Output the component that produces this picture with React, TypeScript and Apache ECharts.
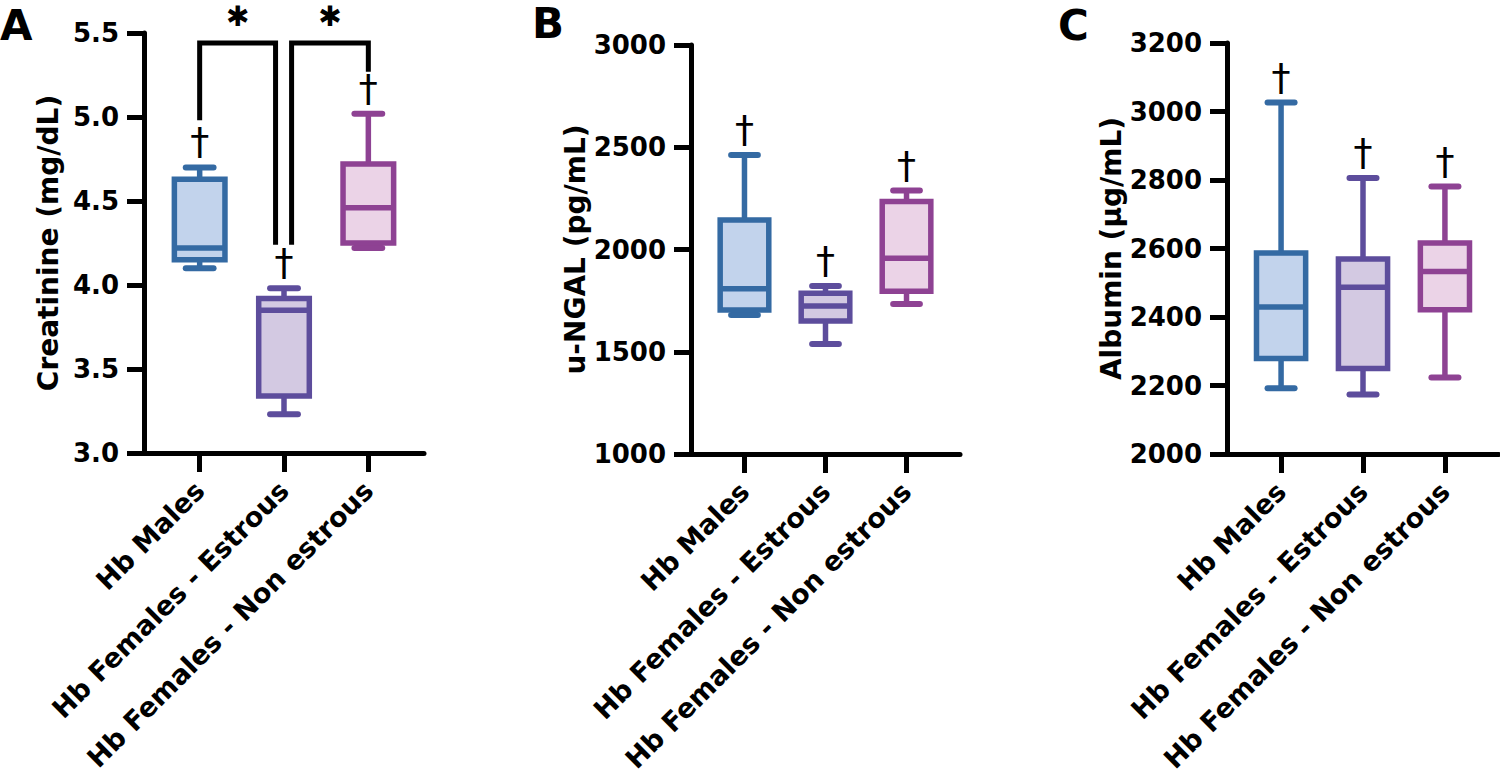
import React, { useEffect, useRef } from "react";
import * as echarts from "echarts";

// ---- data ----
const CATEGORIES = ["Hb Males", "Hb Females - Estrous", "Hb Females - Non estrous"];
// [min, Q1, median, Q3, max]
const CREATININE = [
  [4.1, 4.15, 4.22, 4.63, 4.7],
  [3.23, 3.34, 3.85, 3.92, 3.98],
  [4.22, 4.25, 4.46, 4.72, 5.02],
];
const NGAL = [
  [1680, 1704, 1808, 2144, 2462],
  [1538, 1650, 1724, 1786, 1821],
  [1733, 1796, 1957, 2235, 2288],
];
const ALBUMIN = [
  [2192, 2279, 2429, 2587, 3026],
  [2174, 2250, 2487, 2569, 2806],
  [2223, 2421, 2533, 2616, 2781],
];
// significance brackets in panel A: [xStart, xEnd, yLeftFoot, yRightFoot, yTop, mark]
const BRACKETS: [number, number, number, number, number, string][] = [
  [1, 1.9, 4.98, 4.24, 5.44, "\u2731"],
  [2.09, 3, 4.24, 5.27, 5.44, "\u2731"],
];
const Y_NAMES = ["Creatinine (mg/dL)", "u-NGAL (pg/mL)", "Albumin (\u03bcg/mL)"];
const Y_MIN = [3, 1000, 2000];
const Y_MAX = [5.5, 3000, 3200];
const Y_STEP = [0.5, 500, 200];
const Y_DECIMALS = [1, 0, 0];
const PANEL_LETTERS = ["A", "B", "C"];

// ---- styles ----
const STROKES = ["#346aa3", "#5d4d9c", "#8e4293"];
const FILLS = ["#c2d3ec", "#d3c9e2", "#ebd3e7"];
const FONT = "'DejaVu Sans', sans-serif";
const GRIDS = [
  { left: 144, top: 33, width: 280, height: 420 },
  { left: 691, top: 45, width: 269, height: 409 },
  { left: 1227, top: 43, width: 272, height: 411 },
];
const LETTER_POS = [
  { left: 0, top: 4 },
  { left: 532, top: 2 },
  { left: 1058, top: 4 },
];

function boxRender(params: any, api: any) {
  const x = api.value(0);
  const vals = [1, 2, 3, 4, 5].map((d) => api.coord([x, api.value(d)]));
  const cx = vals[0][0];
  const [yMin, yQ1, yMed, yQ3, yMax] = vals.map((p: number[]) => p[1]);
  const unit = api.size([1, 0])[0];
  const hb = unit * 0.3;
  const hc = unit * 0.165;
  const i = params.dataIndex;
  const stroke = STROKES[i];
  const fill = FILLS[i];
  return {
    type: "group",
    children: [
      { type: "line", shape: { x1: cx, y1: yQ3, x2: cx, y2: yMax }, style: { stroke, lineWidth: 5.5 } },
      { type: "line", shape: { x1: cx, y1: yQ1, x2: cx, y2: yMin }, style: { stroke, lineWidth: 5.5 } },
      { type: "line", shape: { x1: cx - hc, y1: yMax, x2: cx + hc, y2: yMax }, style: { stroke, lineWidth: 6, lineCap: "round" } },
      { type: "line", shape: { x1: cx - hc, y1: yMin, x2: cx + hc, y2: yMin }, style: { stroke, lineWidth: 6, lineCap: "round" } },
      {
        type: "rect",
        shape: { x: cx - hb, y: yQ3, width: hb * 2, height: yQ1 - yQ3 },
        style: { fill, stroke, lineWidth: 5.5, lineJoin: "miter" },
      },
      { type: "line", shape: { x1: cx - hb, y1: yMed, x2: cx + hb, y2: yMed }, style: { stroke, lineWidth: 5.5 } },
      {
        type: "text",
        x: cx,
        y: yMax - 7,
        style: {
          text: "\u2020",
          fontSize: 38,
          fontFamily: FONT,
          fill: "#000",
          align: "center",
          verticalAlign: "bottom",
        },
      },
    ],
  };
}

function bracketRender(params: any, api: any) {
  const p1 = api.coord([api.value(0), api.value(2)]);
  const pTopL = api.coord([api.value(0), api.value(4)]);
  const pTopR = api.coord([api.value(1), api.value(4)]);
  const p2 = api.coord([api.value(1), api.value(3)]);
  const mark = BRACKETS[params.dataIndex][5];
  return {
    type: "group",
    children: [
      {
        type: "polyline",
        shape: { points: [p1, pTopL, pTopR, p2] },
        style: { stroke: "#000", lineWidth: 5, fill: "none", lineJoin: "miter" },
      },
      {
        type: "text",
        x: (pTopL[0] + pTopR[0]) / 2,
        y: pTopL[1] - 27,
        style: {
          text: mark,
          fontSize: 28,
          fontWeight: "bold",
          fontFamily: FONT,
          fill: "#000",
          align: "center",
          verticalAlign: "middle",
        },
      },
    ],
  };
}

export default function App() {
  const ref = useRef<HTMLDivElement>(null);
  useEffect(() => {
    if (!ref.current) return;
    const chart = echarts.init(ref.current, undefined, { renderer: "svg" });
    const datasets = [CREATININE, NGAL, ALBUMIN];
    const grid = GRIDS.map((g) => ({ ...g, containLabel: false, outerBoundsMode: "none" }));
    const xAxis = GRIDS.map((_, k) => ({
      type: "value",
      gridIndex: k,
      min: 0.34,
      max: 3.66,
      splitLine: { show: false },
      axisLine: { show: true, onZero: false, lineStyle: { color: "#000", width: 5 } },
      axisTick: { show: true, customValues: [1, 2, 3], length: 19, lineStyle: { color: "#000", width: 5 } },
      axisLabel: {
        show: true,
        customValues: [1, 2, 3],
        rotate: 45,
        margin: 33,
        color: "#000",
        fontFamily: FONT,
        fontWeight: "bold",
        fontSize: 27,
        formatter: (v: number) => CATEGORIES[Math.round(v) - 1] ?? "",
      },
    }));
    const yAxis = GRIDS.map((_, k) => ({
      type: "value",
      gridIndex: k,
      min: Y_MIN[k],
      max: Y_MAX[k],
      interval: Y_STEP[k],
      name: Y_NAMES[k],
      nameLocation: "middle",
      nameGap: 82,
      nameTextStyle: { color: "#000", fontFamily: FONT, fontWeight: "bold", fontSize: 28 },
      splitLine: { show: false },
      axisLine: { show: true, onZero: false, lineStyle: { color: "#000", width: 5 } },
      axisTick: { show: true, length: 17, lineStyle: { color: "#000", width: 5 } },
      axisLabel: {
        margin: 25,
        color: "#000",
        fontFamily: FONT,
        fontWeight: "bold",
        fontSize: 26,
        formatter: (v: number) => v.toFixed(Y_DECIMALS[k]),
      },
    }));
    const series: any[] = datasets.map((d, k) => ({
      type: "custom",
      xAxisIndex: k,
      yAxisIndex: k,
      renderItem: boxRender,
      encode: { x: 0, y: [1, 2, 3, 4, 5] },
      data: d.map((row, i) => [i + 1, ...row]),
      z: 3,
    }));
    series.push({
      type: "custom",
      xAxisIndex: 0,
      yAxisIndex: 0,
      renderItem: bracketRender,
      encode: { x: [0, 1], y: [2, 3, 4] },
      data: BRACKETS.map((b) => b.slice(0, 5)),
      z: 4,
    });
    chart.setOption({
      animation: false,
      backgroundColor: "#fff",
      title: PANEL_LETTERS.map((t, k) => ({
        text: t,
        left: LETTER_POS[k].left,
        top: LETTER_POS[k].top,
        padding: 0,
        textStyle: { color: "#000", fontFamily: FONT, fontWeight: "bold", fontSize: 42 },
      })),
      grid,
      xAxis,
      yAxis,
      series,
    });
    return () => chart.dispose();
  }, []);
  return (
    <div
      ref={ref}
      style={{ position: "fixed", left: 0, top: 0, width: 1500, height: 779, background: "#fff" }}
    />
  );
}
